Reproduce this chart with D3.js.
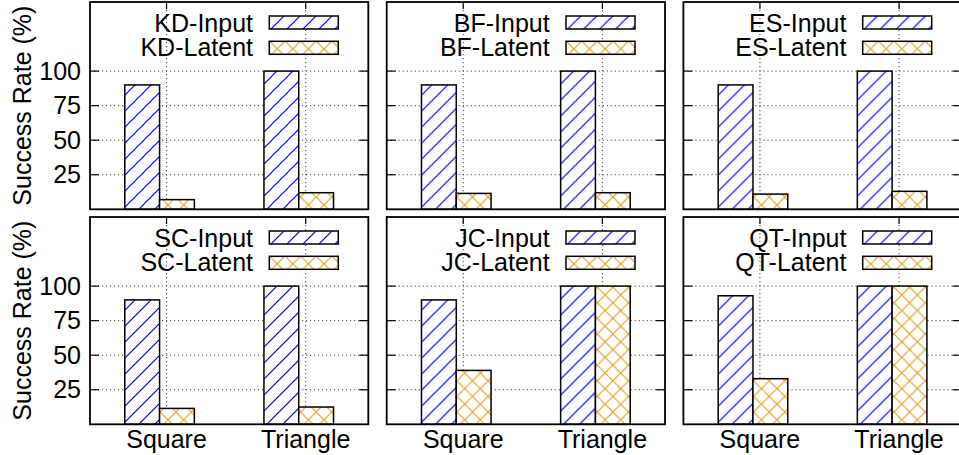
<!DOCTYPE html>
<html>
<head>
<meta charset="utf-8">
<script src="https://cdn.jsdelivr.net/npm/d3@7"></script>
<style>
  body { margin: 0; background: #fff; }
  text { font-family: "Liberation Sans", Arial, sans-serif; fill: #000; }
  .grid { stroke: #444; stroke-width: 1; stroke-dasharray: 1.2,2.8; }
  .tick-mark { stroke: #000; stroke-width: 1.2; }
  .frame { fill: none; stroke: #000; stroke-width: 1.8; }
  .bar { stroke: #000; stroke-width: 1.5; }
</style>
</head>
<body>
<div id="box"></div>
<script>
// data
const categories = ["Square", "Triangle"];
const methods = ["KD", "BF", "ES", "SC", "JC", "QT"];
const inputRates = [[90, 100], [90, 100], [90, 100], [90, 100], [90, 100], [93, 100]];
const latentRates = [[7, 12], [11.5, 12], [11, 13], [11.5, 12.5], [39, 100], [33, 100]];
const yTicks = [25, 50, 75, 100];
const yLabel = "Success Rate (%)";

const W = 959, H = 455;
const marginLeft = 90, marginTop = 2;
const pw = 278.3, ph = 207.3;
const gapX = 18.4, gapY = 7.7;
const fontSize = '25px';

const svg = d3.select('#box').append('svg')
    .attr('width', W)
    .attr('height', H);

const defs = svg.append('defs');

// blue diagonal hatch
const hatch = defs.append('pattern')
    .attr('id', 'hatch')
    .attr('patternUnits', 'userSpaceOnUse')
    .attr('width', 16).attr('height', 16);
hatch.append('rect').attr('width', 16).attr('height', 16).attr('fill', '#fff');
hatch.append('path')
    .attr('d', 'M-4,4 L4,-4 M0,16 L16,0 M12,20 L20,12')
    .attr('stroke', '#0000ff').attr('stroke-width', 1.2);

// orange cross hatch
const cross = defs.append('pattern')
    .attr('id', 'cross')
    .attr('patternUnits', 'userSpaceOnUse')
    .attr('width', 15.6).attr('height', 15.6);
cross.append('rect').attr('width', 15.6).attr('height', 15.6).attr('fill', '#fff');
cross.append('path')
    .attr('d', 'M-2,-2 L17.6,17.6 M-2,17.6 L17.6,-2')
    .attr('stroke', '#e3a21e').attr('stroke-width', 1.2);

const x = d3.scaleLinear().domain([-0.5, 1.5]).range([0, pw]);
const y = d3.scaleLinear().domain([0, 150]).range([ph, 0]);
const barW = 0.25;
const tickShift = 0.05; // gnuplot puts the xtic a bit right of the cluster centre

methods.forEach((m, i) => {
  const col = i % 3, row = Math.floor(i / 3);
  const g = svg.append('g')
      .attr('transform', `translate(${marginLeft + col * (pw + gapX)},${marginTop + row * (ph + gapY)})`);

  // grid
  g.selectAll('.gy').data(yTicks).enter().append('line')
      .attr('class', 'grid')
      .attr('x1', 0).attr('x2', pw)
      .attr('y1', d => y(d)).attr('y2', d => y(d));
  g.selectAll('.gx').data(categories).enter().append('line')
      .attr('class', 'grid')
      .attr('x1', (d, k) => x(k + tickShift)).attr('x2', (d, k) => x(k + tickShift))
      .attr('y1', 0).attr('y2', ph);

  // tick marks, mirrored
  yTicks.forEach(t => {
    g.append('line').attr('class', 'tick-mark')
        .attr('x1', 0).attr('x2', 9).attr('y1', y(t)).attr('y2', y(t));
    g.append('line').attr('class', 'tick-mark')
        .attr('x1', pw - 9).attr('x2', pw).attr('y1', y(t)).attr('y2', y(t));
  });
  categories.forEach((c, k) => {
    g.append('line').attr('class', 'tick-mark')
        .attr('x1', x(k + tickShift)).attr('x2', x(k + tickShift)).attr('y1', 0).attr('y2', 7);
    g.append('line').attr('class', 'tick-mark')
        .attr('x1', x(k + tickShift)).attr('x2', x(k + tickShift)).attr('y1', ph - 7).attr('y2', ph);
  });

  // bars
  g.selectAll('.bin').data(inputRates[i]).enter().append('rect')
      .attr('class', 'bar')
      .attr('fill', 'url(#hatch)')
      .attr('x', (d, k) => x(k - barW))
      .attr('width', x(barW) - x(0))
      .attr('y', d => y(d))
      .attr('height', d => ph - y(d));
  g.selectAll('.blat').data(latentRates[i]).enter().append('rect')
      .attr('class', 'bar')
      .attr('fill', 'url(#cross)')
      .attr('x', (d, k) => x(k))
      .attr('width', x(barW) - x(0))
      .attr('y', d => y(d))
      .attr('height', d => ph - y(d));

  // legend
  const leg = [[m + '-Input', 'url(#hatch)'], [m + '-Latent', 'url(#cross)']];
  leg.forEach((l, k) => {
    g.append('text')
        .attr('x', 163).attr('y', 29.5 + k * 24.4)
        .attr('text-anchor', 'end')
        .attr('font-size', fontSize)
        .text(l[0]);
    g.append('rect')
        .attr('class', 'bar')
        .attr('fill', l[1])
        .attr('x', 179.3).attr('y', 14 + k * 25.3)
        .attr('width', 69).attr('height', 13);
  });

  // frame
  g.append('rect').attr('class', 'frame')
      .attr('x', 0).attr('y', 0).attr('width', pw).attr('height', ph);

  if (col === 0) {
    g.selectAll('.yl').data(yTicks).enter().append('text')
        .attr('x', -9).attr('y', d => y(d) + 8.6)
        .attr('text-anchor', 'end')
        .attr('font-size', fontSize)
        .text(d => d);
    g.append('text')
        .attr('transform', `translate(${22 - marginLeft},${ph / 2}) rotate(-90)`)
        .attr('text-anchor', 'middle')
        .attr('dominant-baseline', 'central')
        .attr('font-size', fontSize)
        .text(yLabel);
  }
  if (row === 1) {
    g.selectAll('.xl').data(categories).enter().append('text')
        .attr('x', (d, k) => x(k + tickShift)).attr('y', ph + 24)
        .attr('text-anchor', 'middle')
        .attr('font-size', fontSize)
        .text(d => d);
  }
});
</script>
</body>
</html>
